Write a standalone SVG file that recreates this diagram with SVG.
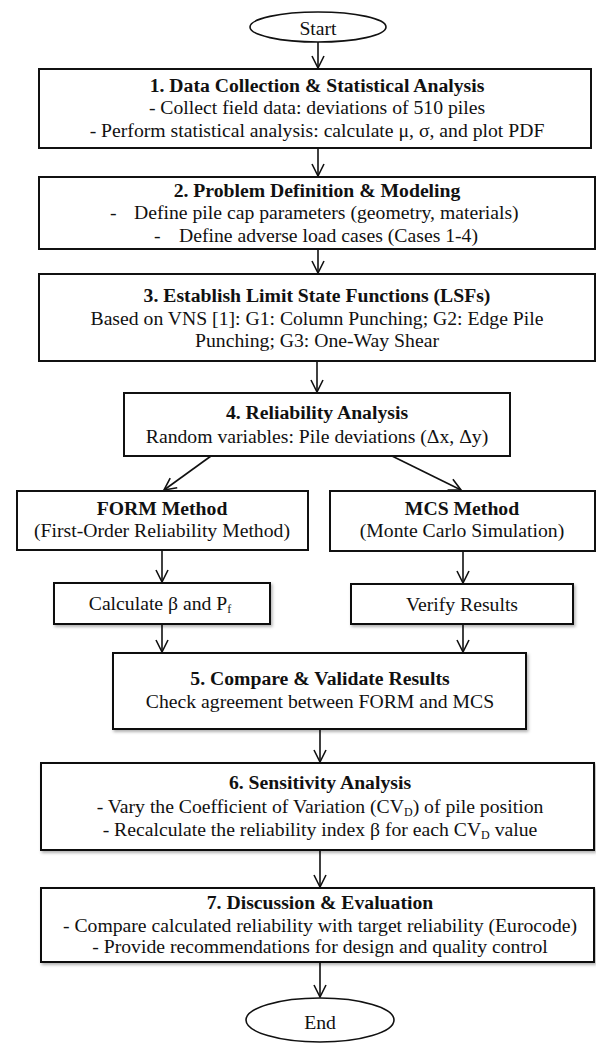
<svg xmlns="http://www.w3.org/2000/svg" width="596" height="1046" viewBox="0 0 596 1046">
<defs>
<style>
text{font-family:"Liberation Serif","Times New Roman",serif;font-size:19.7px;fill:#111;text-anchor:middle}
.t{font-weight:bold}
.box{fill:#fff;stroke:#111;stroke-width:2}
.sh{filter:url(#shadow)}
.ell{fill:#fff;stroke:#111;stroke-width:1.6}
.con{fill:none;stroke:#111;stroke-width:1.6}
.sub{font-size:12px}
</style>
<filter id="shadow" x="-10%" y="-10%" width="120%" height="130%">
<feDropShadow dx="1.5" dy="2" stdDeviation="1.5" flood-color="#000" flood-opacity="0.3"/>
</filter>
<marker id="arr" markerUnits="userSpaceOnUse" viewBox="-14 -8 16 16" refX="0" refY="0" markerWidth="16" markerHeight="16" orient="auto" overflow="visible">
<path d="M-12,-6 L0,0 L-12,6" fill="none" stroke="#111" stroke-width="1.6"/>
</marker>
</defs>

<g id="connectors">
<line class="con" x1="318" y1="42" x2="318" y2="68" marker-end="url(#arr)"/>
<line class="con" x1="318" y1="148" x2="318" y2="176" marker-end="url(#arr)"/>
<line class="con" x1="318" y1="249" x2="318" y2="273" marker-end="url(#arr)"/>
<line class="con" x1="317" y1="361" x2="317" y2="392" marker-end="url(#arr)"/>
<line class="con" x1="211" y1="456" x2="164" y2="490" marker-end="url(#arr)"/>
<line class="con" x1="392" y1="456" x2="461" y2="490" marker-end="url(#arr)"/>
<line class="con" x1="162" y1="550" x2="162" y2="582" marker-end="url(#arr)"/>
<line class="con" x1="463" y1="551" x2="463" y2="583" marker-end="url(#arr)"/>
<line class="con" x1="162" y1="624" x2="162" y2="652" marker-end="url(#arr)"/>
<line class="con" x1="463" y1="624" x2="463" y2="652" marker-end="url(#arr)"/>
<line class="con" x1="320" y1="729" x2="320" y2="762" marker-end="url(#arr)"/>
<line class="con" x1="320" y1="850" x2="320" y2="887" marker-end="url(#arr)"/>
<line class="con" x1="320" y1="962" x2="320" y2="997" marker-end="url(#arr)"/>
</g>

<g id="start">
<ellipse class="ell" cx="318" cy="27" rx="68" ry="15"/>
<text x="318" y="35">Start</text>
</g>

<g id="step1">
<rect class="box" x="39" y="69" width="552" height="79"/>
<text class="t" x="317" y="92">1. Data Collection &amp; Statistical Analysis</text>
<text x="317" y="114">- Collect field data: deviations of 510 piles</text>
<text x="317" y="137">- Perform statistical analysis: calculate μ, σ, and plot PDF</text>
</g>

<g id="step2">
<rect class="box" x="39" y="177" width="556" height="72"/>
<text class="t" x="317" y="197">2. Problem Definition &amp; Modeling</text>
<text style="text-anchor:start" y="219"><tspan x="110">-</tspan><tspan x="134">Define pile cap parameters (geometry, materials)</tspan></text>
<text style="text-anchor:start" y="242"><tspan x="154">-</tspan><tspan x="179">Define adverse load cases (Cases 1-4)</tspan></text>
</g>

<g id="step3">
<rect class="box" x="39" y="274" width="556" height="87"/>
<text class="t" x="317" y="302">3. Establish Limit State Functions (LSFs)</text>
<text x="317" y="325">Based on VNS [1]: G1: Column Punching; G2: Edge Pile</text>
<text x="317" y="347">Punching; G3: One-Way Shear</text>
</g>

<g id="step4">
<rect class="box" x="124" y="393" width="386" height="63"/>
<text class="t" x="317" y="419">4. Reliability Analysis</text>
<text x="317" y="443">Random variables: Pile deviations (Δx, Δy)</text>
</g>

<g id="form">
<rect class="box" x="17" y="491" width="291" height="59"/>
<text class="t" x="162" y="515">FORM Method</text>
<text x="162" y="537">(First-Order Reliability Method)</text>
</g>

<g id="mcs">
<rect class="box" x="330" y="491" width="265" height="60"/>
<text class="t" x="462" y="515">MCS Method</text>
<text x="462" y="537">(Monte Carlo Simulation)</text>
</g>

<g id="calc">
<rect class="box sh" x="54" y="583" width="216" height="41"/>
<text x="160" y="610">Calculate β and P<tspan class="sub" dy="3">f</tspan></text>
</g>

<g id="verify">
<rect class="box sh" x="351" y="584" width="222" height="40"/>
<text x="462" y="611">Verify Results</text>
</g>

<g id="step5">
<rect class="box sh" x="113" y="653" width="413" height="76"/>
<text class="t" x="320" y="685">5. Compare &amp; Validate Results</text>
<text x="320" y="708">Check agreement between FORM and MCS</text>
</g>

<g id="step6">
<rect class="box sh" x="41" y="763" width="553" height="87"/>
<text class="t" x="320" y="789">6. Sensitivity Analysis</text>
<text x="320" y="813">- Vary the Coefficient of Variation (CV<tspan class="sub" dy="3">D</tspan><tspan dy="-3">) of pile position</tspan></text>
<text x="320" y="836">- Recalculate the reliability index β for each CV<tspan class="sub" dy="3">D</tspan><tspan dy="-3"> value</tspan></text>
</g>

<g id="step7">
<rect class="box sh" x="41" y="888" width="553" height="74"/>
<text class="t" x="320" y="909">7. Discussion &amp; Evaluation</text>
<text x="320" y="932">- Compare calculated reliability with target reliability (Eurocode)</text>
<text x="320" y="953">- Provide recommendations for design and quality control</text>
</g>

<g id="end">
<ellipse class="ell" cx="320" cy="1020" rx="74" ry="22"/>
<text x="320" y="1029">End</text>
</g>
</svg>
